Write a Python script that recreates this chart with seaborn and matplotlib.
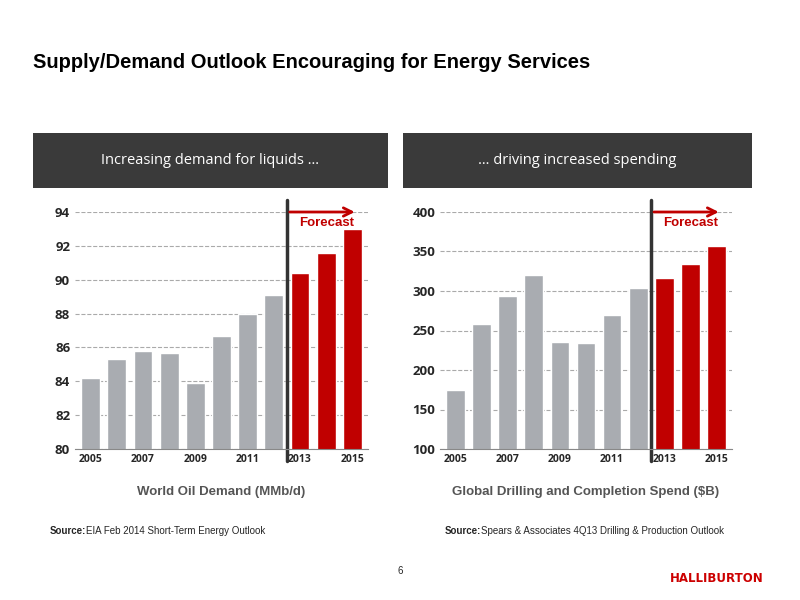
import matplotlib
matplotlib.use("Agg")
import matplotlib.pyplot as plt
import seaborn as sns
import pandas as pd

years = [2005,2006,2007,2008,2009,2010,2011,2012,2013,2014,2015]
oil_demand = [84.2,85.3,85.8,85.7,83.9,86.7,88.0,89.1,90.4,91.6,93.0]
spend = [175,258,294,320,235,234,269,304,317,334,357]
tick_labels = ["2005","","2007","","2009","","2011","","2013","","2015"]

sns.set_style("white")
plt.rcParams['font.family'] = ['Liberation Sans', 'DejaVu Sans']
fig = plt.figure(figsize=(8,6), dpi=100)
W, H = 800, 600
def ax_px(x0, y0, x1, y1):
    return fig.add_axes([x0/W, 1-y1/H, (x1-x0)/W, (y1-y0)/H])

fig.text(33/W, 1-63/H, "Supply/Demand Outlook Encouraging for Energy Services",
         fontsize=14.5, fontweight="bold", va="center", color="black")

for (x0, x1, t) in [(33,388,"Increasing demand for liquids …"),(403,752,"… driving increased spending")]:
    hx = ax_px(x0,133,x1,188)
    hx.set_facecolor("#3a3a3a"); hx.set_xticks([]); hx.set_yticks([])
    for s in hx.spines.values(): s.set_visible(False)
    hx.text(0.5,0.5,t,color="white",fontsize=10.5,ha="center",va="center",transform=hx.transAxes,
            family=["Open Sans","DejaVu Sans"])

gray = "#a9acb1"; red = "#c00000"
colors = [gray]*8 + [red]*3

def panel(x0, x1, vals, ylim, yticks, xlabel, src_b, src):
    ax = ax_px(x0,212,x1,449)
    df = pd.DataFrame({"year":[str(y) for y in years],"v":vals})
    sns.barplot(data=df, x="year", y="v", hue="year", palette=colors, legend=False,
                ax=ax, width=0.72, saturation=1)
    ax.set_ylim(*ylim); ax.set_yticks(yticks)
    ax.set_xticks(range(len(years))); ax.set_xticklabels(tick_labels, fontsize=7.5, fontweight="bold",
                                                        family=["Open Sans","DejaVu Sans"])
    ax.tick_params(axis="y", labelsize=9.5, length=0)
    for l in ax.get_yticklabels(): l.set_fontweight("bold"); l.set_family(["Open Sans","DejaVu Sans"])
    ax.tick_params(axis="x", length=0)
    ax.set_xlabel(""); ax.set_ylabel("")
    ax.yaxis.grid(True, linestyle="--", color="#aaaaaa", linewidth=0.8); ax.set_axisbelow(True)
    for s in ["top","right","left"]: ax.spines[s].set_visible(False)
    ax.spines["bottom"].set_color("#888888")
    ax.set_xlim(-0.6, 10.6)
    ax.axvline(7.5, ymin=-0.05, ymax=1.05, color="#333333", lw=2.5, clip_on=False)
    ax.annotate("", xy=(10.2,1.0), xytext=(7.5,1.0), xycoords=("data","axes fraction"),
                textcoords=("data","axes fraction"),
                arrowprops=dict(arrowstyle="->", color=red, lw=2, mutation_scale=15))
    ax.text(9.0, 0.955, "Forecast", color=red, fontsize=9.5, fontweight="bold", ha="center",
            va="center", transform=ax.get_xaxis_transform())
    fig.text((x0+x1)/2/W, 1-492/H, xlabel, ha="center", va="center", fontsize=9.5,
             fontweight="bold", color="#555555")
    fig.text(src_b/W, 1-531/H, "Source:", fontsize=7, fontweight="bold", va="center")
    fig.text((src_b+36)/W, 1-531/H, src, fontsize=7, va="center")

panel(75, 368, oil_demand, (80,94), [80,82,84,86,88,90,92,94], "World Oil Demand (MMb/d)",
      50, "EIA Feb 2014 Short-Term Energy Outlook")
panel(440, 732, spend, (100,400), [100,150,200,250,300,350,400], "Global Drilling and Completion Spend ($B)",
      445, "Spears & Associates 4Q13 Drilling & Production Outlook")

fig.text(400/W, 1-571/H, "6", fontsize=7, ha="center", va="center")
fig.text(717/W, 1-578/H, "HALLIBURTON", fontsize=8.5, fontweight="bold", color="#cc0000",
         ha="center", va="center", family=["DejaVu Sans"])
fig.savefig("out.png", dpi=100)
